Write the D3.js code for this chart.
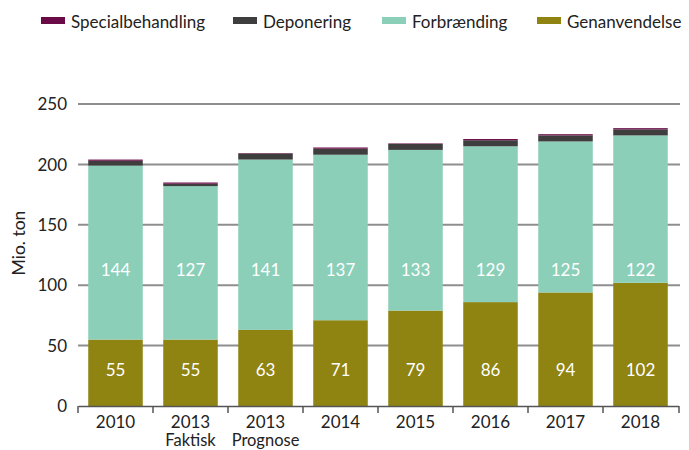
<!DOCTYPE html>
<html>
<head>
<meta charset="utf-8">
<script src="https://cdn.jsdelivr.net/npm/d3@7"></script>
<style>
  body { margin: 0; background: #fff; }
  text { font-family: Lato, "Open Sans", sans-serif; }
  .grid line { stroke: #8e8e8e; stroke-width: 2; }
</style>
</head>
<body>
<div id="chart"></div>
<script>
var width = 689,
    height = 450;

// data (mio. ton)
var years = ["2010", "2013|Faktisk", "2013|Prognose", "2014", "2015", "2016", "2017", "2018"];
var genanvendelse = [55, 55, 63, 71, 79, 86, 94, 102];
var forbraending = [144, 127, 141, 137, 133, 129, 125, 122];
var deponering = [4, 2, 5, 5, 5, 5, 5, 5];
var specialbehandling = [1, 1, 0.4, 1, 0.4, 1, 1, 1];
var yTicks = [0, 50, 100, 150, 200, 250];

var seriesNames = ["Genanvendelse", "Forbrænding", "Deponering", "Specialbehandling"];
var colors = {
  "Specialbehandling": "#6a0a47",
  "Deponering": "#3e3e3e",
  "Forbrænding": "#8bcfb9",
  "Genanvendelse": "#8f8312"
};
var legendOrder = ["Specialbehandling", "Deponering", "Forbrænding", "Genanvendelse"];
var legendX = [41, 233, 382, 537];

var rows = years.map(function(y, i) {
  return {
    year: y,
    "Genanvendelse": genanvendelse[i],
    "Forbrænding": forbraending[i],
    "Deponering": deponering[i],
    "Specialbehandling": specialbehandling[i]
  };
});

var x = d3.scaleBand()
  .domain(years)
  .range([78, 678])
  .paddingInner(0.273)
  .paddingOuter(0.1365);

var y = d3.scaleLinear()
  .domain([0, 250])
  .range([406, 104]);

var svg = d3.select('#chart').append('svg')
  .attr('width', width)
  .attr('height', height);

// gridlines
var grid = svg.append('g').attr('class', 'grid');
grid.selectAll('line')
  .data(yTicks.filter(function(d) { return d > 0; }))
  .enter().append('line')
  .attr('x1', 78)
  .attr('x2', 680)
  .attr('y1', function(d) { return y(d); })
  .attr('y2', function(d) { return y(d); });

// y tick labels
svg.selectAll('.ylab')
  .data(yTicks)
  .enter().append('text')
  .attr('class', 'ylab')
  .attr('x', 67)
  .attr('y', function(d) { return y(d); })
  .attr('dy', '0.36em')
  .attr('text-anchor', 'end')
  .attr('font-size', 17)
  .attr('fill', '#222')
  .text(function(d) { return d; });

svg.append('text')
  .attr('transform', 'translate(25,243) rotate(-90)')
  .attr('text-anchor', 'middle')
  .attr('font-size', 17.5)
  .attr('fill', '#222')
  .text('Mio. ton');

// stacked bars
var stack = d3.stack().keys(seriesNames);
var layers = stack(rows);

svg.selectAll('g.layer')
  .data(layers)
  .enter().append('g')
  .attr('class', 'layer')
  .attr('fill', function(d) { return colors[d.key]; })
  .selectAll('rect')
  .data(function(d) { return d; })
  .enter().append('rect')
  .attr('x', function(d) { return x(d.data.year); })
  .attr('width', x.bandwidth())
  .attr('y', function(d) { return y(d[1]); })
  .attr('height', function(d) { return y(d[0]) - y(d[1]); });

// value labels (fixed heights like the original)
var labelLevels = { "Genanvendelse": 30, "Forbrænding": 113 };
["Genanvendelse", "Forbrænding"].forEach(function(key) {
  svg.selectAll('.lab-' + key)
    .data(rows)
    .enter().append('text')
    .attr('x', function(d) { return x(d.year) + x.bandwidth() / 2; })
    .attr('y', y(labelLevels[key]))
    .attr('dy', '0.36em')
    .attr('text-anchor', 'middle')
    .attr('font-size', 17)
    .attr('fill', '#fff')
    .text(function(d) { return d[key]; });
});

// x axis
var xAxis = d3.axisBottom(x).tickSize(0).tickFormat('');
var gx = svg.append('g')
  .attr('transform', 'translate(0,' + y(0) + ')')
  .call(xAxis);
gx.select('.domain').attr('stroke', '#555').attr('stroke-width', 1.5)
  .attr('d', 'M78.5,0.5H679');
var bounds = x.domain().map(function(d) { return x(d) - x.step() * x.paddingInner() / 2; });
bounds.push(679);
gx.selectAll('.sep')
  .data(bounds)
  .enter().append('line')
  .attr('x1', function(d) { return d; })
  .attr('x2', function(d) { return d; })
  .attr('y1', 0)
  .attr('y2', 7)
  .attr('stroke', '#555')
  .attr('stroke-width', 1.5);

var xl = svg.selectAll('.xlab')
  .data(years)
  .enter().append('text')
  .attr('class', 'xlab')
  .attr('x', function(d) { return x(d) + x.bandwidth() / 2; })
  .attr('y', 428)
  .attr('text-anchor', 'middle')
  .attr('font-size', 17)
  .attr('fill', '#222');
xl.each(function(d) {
  var parts = d.split('|');
  var t = d3.select(this);
  parts.forEach(function(p, i) {
    t.append('tspan')
      .attr('x', x(d) + x.bandwidth() / 2)
      .attr('dy', i === 0 ? 0 : 18)
      .attr('font-size', i === 0 ? 17 : 16.5)
      .text(p);
  });
});

// legend
var legend = svg.selectAll('.legend')
  .data(legendOrder)
  .enter().append('g')
  .attr('class', 'legend')
  .attr('transform', function(d, i) { return 'translate(' + legendX[i] + ',0)'; });
legend.append('rect')
  .attr('x', 0)
  .attr('y', 17)
  .attr('width', 24)
  .attr('height', 7)
  .attr('fill', function(d) { return colors[d]; });
legend.append('text')
  .attr('x', 30)
  .attr('y', 28)
  .attr('font-size', 17)
  .attr('fill', '#222')
  .text(function(d) { return d; });
</script>
</body>
</html>
